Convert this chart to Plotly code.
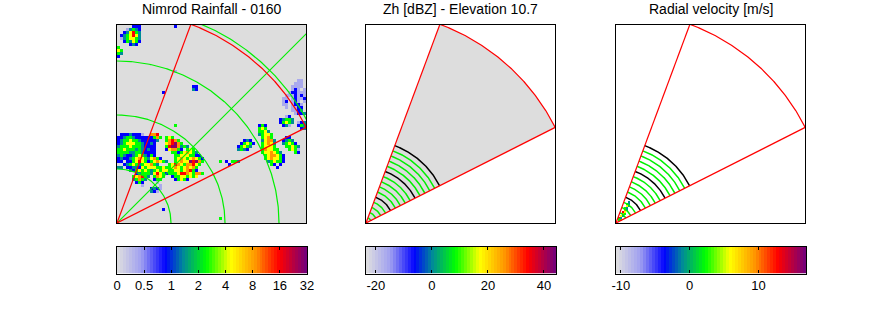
import numpy as np
import plotly.graph_objects as go

W, H = 889, 333
TITLES = ["Nimrod Rainfall - 0160", "Zh [dBZ] - Elevation 10.7", "Radial velocity [m/s]"]
PANEL_LEFT = [117, 366, 616]
PANEL_W, PANEL_H = 189, 198
PANEL_TOP = 25
BAR_TOP, BAR_H = 246.5, 27
SPOKE_ANGLES = [69.6, 26.8]
SECTOR_RADIUS = 212
RAIN_GREEN_RINGS = [54, 108, 162, 216]
RAIN_GREEN_SPOKE = 45
RADAR_GREEN_RINGS = [5.5, 11, 16.5, 22, 33, 38.5, 44, 49.5, 60.5, 66, 71.5, 77]
RADAR_BLACK_RINGS = [27.5, 55, 82.5]
BAR_TICKS = [[0, 1, 2, 3, 4, 5, 6, 7], [-20, 0, 20, 40], [-10, 0, 10]]
BAR_LABELS = [["0", "0.5", "1", "2", "4", "8", "16", "32"], ["-20", "0", "20", "40"], ["-10", "0", "10"]]
BAR_RANGES = [[0, 7], [-23.5, 44.3], [-10.7, 16.9]]
CMAP = [[0, "#dcdce0"], [0.12, "#a0a0f0"], [0.25, "#0000ff"], [0.35, "#008c96"], [0.47, "#00ff00"],
        [0.6, "#ffff00"], [0.73, "#ff9600"], [0.86, "#ff0000"], [1, "#780078"]]
LEVELS = {"b": 0.1, "B": 0.25, "T": 0.35, "G": 0.47, "Y": 0.6, "O": 0.73, "R": 0.86, "P": 0.98}
GREY = "#dddddd"
GREEN = "#00f000"
RED = "#ff0000"

# rain echoes: row (3-px cells up from radar), first column, class string
RAIN = [
 (65, 5, "BBB"), (65, 19, "B"),
 (64, 3, "bTGTB"), (63, 2, "BTYRGT"), (62, 1, "BTGYRYT"), (61, 1, "bTGYYGT"), (60, 2, "BGTYGB"), (59, 4, "BTB"),
 (58, 0, "G"), (57, 0, "YG"), (56, 0, "GT"), (55, 0, "B"),
 (50, 19, "b"), (47, 60, "bb"), (46, 59, "bbb"), (45, 25, "BB"), (45, 58, "bbbb"), (44, 25, "TB"), (44, 58, "bBb.b"),
 (43, 15, "B"), (43, 57, "bBBbbb"), (42, 56, "bbbBbBbB"), (41, 55, "bb.bBbbBB"), (40, 55, "bB.bBb.bB"),
 (39, 55, "bb.bBBb.b"), (38, 56, "b.bbBB.b"), (37, 58, "bbBT"), (36, 59, "bBBT"),
 (35, 56, "bB"), (34, 54, "BTGGT"), (33, 54, "BGYGT.bBT"), (32, 47, "BGB"), (32, 19, "G"), (32, 55, "BTb"), (32, 60, "BGTB"), (31, 47, "GYG"), (31, 61, "BT"),
 (30, 47, "GGYT"), (29, 1, "BBBTBBBb"), (29, 11, "OOR"), (29, 47, "TGYYG"),
 (28, 0, "BBTGGTBBBBBBGOG.GYG"), (28, 48, "GYOG"), (28, 56, "BB"),
 (27, 0, "BTGGYGGTBBBBBT..GOROG"), (27, 42, "BTB"), (27, 48, "TYOOT"), (27, 55, "BTGT"),
 (26, 0, "BTGYYYGGTBBTB...YORPOG"), (26, 41, "BGYGB"), (26, 48, "GYOYT"), (26, 55, "TGYGB"),
 (25, 0, "TGGGYGGGTBBBB...GRPPOY"), (25, 21, "TGT"), (25, 40, "BGYGT"), (25, 48, "GYYYG"), (25, 56, "GGYGT"),
 (24, 0, "GGYGGGTGTBTBB...BYOOGB"), (24, 23, "GYG"), (24, 40, "TGTB"), (24, 48, "GOYYGG"), (24, 57, "GYGb"),
 (23, 0, "GGGGTTGGTBBBB.....GGB"), (23, 21, "GYOYGT"), (23, 48, "GYYOYGT"), (23, 59, "GB"),
 (22, 0, "TGTBBTGYGTBGB"), (22, 19, "GGYYYGGBB"), (22, 49, "GYOOYGB"),
 (21, 0, "BTBBTGYOYGTYOGB"), (21, 19, "GYOYGYOYGB"), (21, 49, "GYOYYGB"),
 (20, 0, "BB.BBGYRYGBGYOYGT"), (20, 19, "GYOYYPRPOG"), (20, 34, "G.B.GGT"), (20, 50, "TGYGGB"),
 (19, 2, "BTGYGTGYYOGT"), (19, 17, "GYROYGOORYG"), (19, 37, "B"), (19, 51, "GB.B"),
 (18, 0, "TT.BBTTBYGYYYGGYGGYOYGYOYOG"), (18, 53, "B"),
 (17, 4, "TBGYGYGTGYGYYGGYYGYORGB"),
 (16, 6, "BTGGGTYRYGBGGGYRROYGOOG"),
 (15, 5, "GYORGT.GOYG..BGGYYGYGY"),
 (14, 5, "TGOGT..BGG....BGYGB"), (13, 6, "BGB....b...."), (12, 8, "b"), (12, 14, "b"),
 (11, 11, "BTBb"), (10, 11, "TBb"), (4, 15, "B"), (1, 34, "G"),
]
# echoes in the radar panels: row and column in 2-px cells from the radar
ZH_ECHO = [(1, 1, "BB"), (2, 1, "BTB"), (3, 2, "BB"), (5, 3, "bB"), (6, 4, "Bb"), (8, 7, "b"), (9, 5, "Bb"), (9, 16, "B"), (10, 5, "bB")]
VR_ECHO = [(1, 1, "GO"), (2, 1, "RT"), (3, 2, "YT"), (4, 3, "OG"), (5, 3, "RY"), (6, 4, "OT"), (7, 4, "GT"), (8, 5, "YT"), (9, 5, "GT"), (10, 6, "T")]


def px(x):
    return x / W


def grid(entries, cell, nx, ny):
    z = [[None] * nx for _ in range(ny)]
    for r, c, s in entries:
        for i, ch in enumerate(s):
            if ch != "." and 0 <= c + i < nx and 0 <= r < ny:
                z[r][c + i] = LEVELS[ch]
    return (np.arange(nx) + 0.5) * cell, (np.arange(ny) + 0.5) * cell, z


def arc(r, a0=0, a1=90):
    t = np.radians(np.linspace(a0, a1, 181))
    return r * np.cos(t), r * np.sin(t)


def spoke(a, r):
    t = np.radians(a)
    return [0, r * np.cos(t)], [0, r * np.sin(t)]


fig = go.Figure()


def line(x, y, color, ax, width=1.2):
    fig.add_trace(go.Scatter(x=x, y=y, mode="lines", line=dict(color=color, width=width),
                             xaxis=f"x{ax}", yaxis=f"y{ax}", showlegend=False, hoverinfo="skip"))


def heat(x, y, z, ax):
    fig.add_trace(go.Heatmap(x=x, y=y, z=z, zmin=0, zmax=1, colorscale=CMAP, showscale=False,
                             xaxis=f"x{ax}", yaxis=f"y{ax}", hoverinfo="skip", xgap=0, ygap=0))


layout = {}
annotations = []
for i in range(3):
    ax = i + 1
    left = PANEL_LEFT[i]
    frame = dict(showline=True, mirror=True, linecolor="black", linewidth=1.3, showgrid=False, zeroline=False,
                 showticklabels=False, ticks="", fixedrange=True)
    layout[f"xaxis{ax}"] = dict(frame, domain=[px(left), px(left + PANEL_W)], range=[0, PANEL_W], anchor=f"y{ax}")
    layout[f"yaxis{ax}"] = dict(frame, domain=[1 - (PANEL_TOP + PANEL_H) / H, 1 - PANEL_TOP / H], range=[0, PANEL_H], anchor=f"x{ax}")
    bx = i + 4
    layout[f"xaxis{bx}"] = dict(showline=True, mirror="ticks", linecolor="black", linewidth=1.3, showgrid=False, zeroline=False,
                                domain=[px(left), px(left + PANEL_W + 1)], range=BAR_RANGES[i], anchor=f"y{bx}",
                                tickmode="array", tickvals=BAR_TICKS[i], ticktext=BAR_LABELS[i], ticks="inside", ticklen=3,
                                tickcolor="black", tickfont=dict(family="Liberation Sans", size=13, color="black"), fixedrange=True)
    layout[f"yaxis{bx}"] = dict(showline=True, mirror=True, linecolor="black", linewidth=1.3, showgrid=False, zeroline=False,
                                showticklabels=False, ticks="", domain=[1 - (BAR_TOP + BAR_H) / H, 1 - BAR_TOP / H], range=[0, 1],
                                anchor=f"x{bx}", fixedrange=True)
    annotations.append(dict(text=TITLES[i], xref="paper", yref="paper", x=px(left + PANEL_W / 2), y=1 - 19 / H, xanchor="center",
                            yanchor="bottom", showarrow=False, font=dict(family="Liberation Sans", size=14, color="black")))

# panel 1
x, y, z = grid(RAIN, 3, 63, 66)
fig.add_trace(go.Heatmap(x=[0, PANEL_W], y=[0, PANEL_H], z=[[0]], zmin=0, zmax=1,
                         colorscale=[[0, GREY], [1, GREY]], showscale=False, xaxis="x1", yaxis="y1", hoverinfo="skip"))
heat(x, y, z, 1)
for r in RAIN_GREEN_RINGS:
    line(*arc(r), GREEN, 1)
line(*spoke(RAIN_GREEN_SPOKE, 300), GREEN, 1)
for a in SPOKE_ANGLES:
    line(*spoke(a, SECTOR_RADIUS), RED, 1)
line(*arc(SECTOR_RADIUS, *SPOKE_ANGLES[::-1]), RED, 1)

# panels 2, 3
for ax, echo, fill in [(2, ZH_ECHO, True), (3, VR_ECHO, False)]:
    if fill:
        ax_x, ax_y = arc(SECTOR_RADIUS, *SPOKE_ANGLES[::-1])
        fig.add_trace(go.Scatter(x=[0, *ax_x, 0], y=[0, *ax_y, 0], mode="lines", fill="toself", fillcolor=GREY, line=dict(width=0),
                                 xaxis="x2", yaxis="y2", showlegend=False, hoverinfo="skip"))
    x, y, z = grid(echo, 2, 20, 14)
    heat(x, y, z, ax)
    for r in RADAR_GREEN_RINGS:
        line(*arc(r, *SPOKE_ANGLES[::-1]), GREEN, ax, 1.5)
    for r in RADAR_BLACK_RINGS:
        line(*arc(r, *SPOKE_ANGLES[::-1]), "black", ax, 1.5)
    for a in SPOKE_ANGLES:
        line(*spoke(a, SECTOR_RADIUS), RED, ax)
    line(*arc(SECTOR_RADIUS, *SPOKE_ANGLES[::-1]), RED, ax)

# colour bars
for i in range(3):
    bx = i + 4
    lo, hi = BAR_RANGES[i]
    edges = np.linspace(lo, hi, 65)
    fig.add_trace(go.Heatmap(x=edges, y=[0, 1], z=[np.linspace(0, 1, 64)], zmin=0, zmax=1, colorscale=CMAP, showscale=False,
                             xaxis=f"x{bx}", yaxis=f"y{bx}", hoverinfo="skip"))

fig.update_layout(width=W, height=H, margin=dict(l=0, r=0, t=0, b=0, autoexpand=False), paper_bgcolor="white", plot_bgcolor="white",
                  annotations=annotations, **layout)
fig.write_html("out.html", config={"displayModeBar": False},
               post_script="document.body.style.margin='0';document.documentElement.style.overflow='hidden';")
